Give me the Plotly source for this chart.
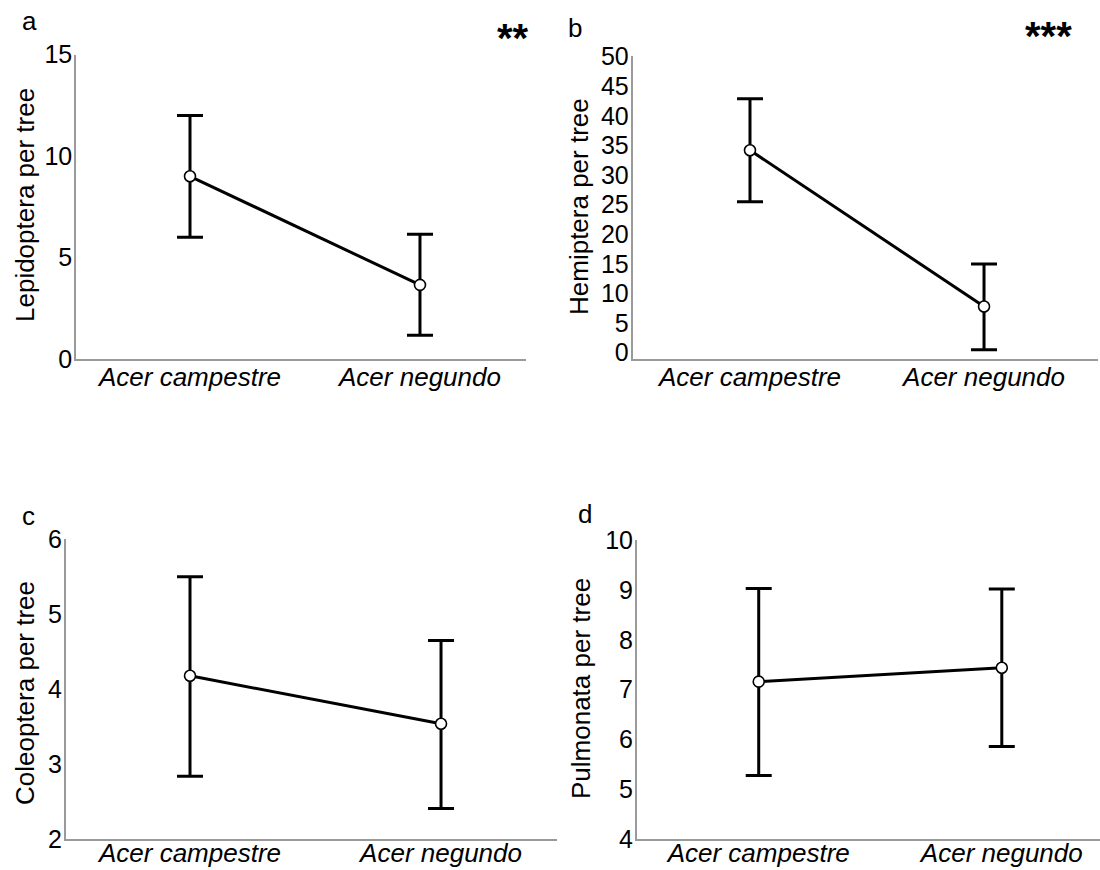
import plotly.graph_objects as go

species = ["Acer campestre", "Acer negundo"]

lep_mean = [9.0, 3.65]
lep_upper = [12.0, 6.15]
lep_lower = [6.0, 1.17]

hem_mean = [34.2, 7.8]
hem_upper = [42.9, 15.0]
hem_lower = [25.5, 0.5]

col_mean = [4.18, 3.54]
col_upper = [5.50, 4.65]
col_lower = [2.84, 2.41]

pul_mean = [7.16, 7.44]
pul_upper = [9.03, 9.02]
pul_lower = [5.28, 5.86]

y_titles = ["Lepidoptera per tree", "Hemiptera per tree", "Coleoptera per tree", "Pulmonata per tree"]
panel_letters = ["a", "b", "c", "d"]
signif = ["**", "***", "", ""]

lep_ticks = [0, 5, 10, 15]
hem_ticks = [0, 5, 10, 15, 20, 25, 30, 35, 40, 45, 50]
col_ticks = [2, 3, 4, 5, 6]
pul_ticks = [4, 5, 6, 7, 8, 9, 10]

FONT = "Liberation Sans, Arial, sans-serif"
W, H = 1100, 870

panels = [
    dict(mean=lep_mean, up=lep_upper, lo=lep_lower, ticks=lep_ticks, yr=[0, 15],
         xpx=(76, 526), ypx=(54.5, 359), xr=[-0.4957, 1.461], xstand=-6),
    dict(mean=hem_mean, up=hem_upper, lo=hem_lower, ticks=hem_ticks, yr=[-1.06, 50.2],
         xpx=(632.5, 1098), ypx=(55.5, 359), xr=[-0.502, 1.487], xstand=-6),
    dict(mean=col_mean, up=col_upper, lo=col_lower, ticks=col_ticks, yr=[2, 6],
         xpx=(65.6, 557), ypx=(539.3, 839.3), xr=[-0.4956, 1.462], xstand=-10),
    dict(mean=pul_mean, up=pul_upper, lo=pul_lower, ticks=pul_ticks, yr=[4, 10],
         xpx=(636.7, 1100), ypx=(540, 839.3), xr=[-0.502, 1.404], xstand=-10),
]

fig = go.Figure()
layout = dict(
    template="none",
    width=W, height=H, margin=dict(l=0, r=0, t=0, b=0, pad=0, autoexpand=False),
    paper_bgcolor="white", plot_bgcolor="white", showlegend=False,
    font=dict(family=FONT, color="#000000"),
)

annotations = []
title_pos = [(25, 205), (579, 207), (25, 693), (581, 689)]
letter_pos = [(29, 21), (575, 28), (28, 516), (585, 514)]
sig_pos = [(513, 38), (1048, 36)]

for i, p in enumerate(panels):
    n = "" if i == 0 else str(i + 1)
    xa, ya = "x" + n, "y" + n
    fig.add_trace(go.Scatter(
        x=[0, 1], y=p["mean"], xaxis=xa, yaxis=ya, mode="lines+markers",
        line=dict(color="black", width=3),
        marker=dict(symbol="circle", size=11, color="white", line=dict(color="black", width=1.6)),
        error_y=dict(type="data", symmetric=False,
                     array=[u - m for u, m in zip(p["up"], p["mean"])],
                     arrayminus=[m - l for m, l in zip(p["mean"], p["lo"])],
                     color="black", thickness=3, width=13),
        hoverinfo="skip",
    ))
    x0, x1 = p["xpx"]
    yt, yb = p["ypx"]
    layout["xaxis" + n] = dict(
        domain=[x0 / W, x1 / W], anchor=ya, range=p["xr"], automargin=False,
        tickvals=[0, 1], ticktext=species, ticks="", showgrid=False, zeroline=False,
        showline=True, linecolor="#9a9a9a", linewidth=1.5,
        tickfont=dict(family=FONT, size=26, color="#000000", style="italic"),
        ticklabelstandoff=p["xstand"],
    )
    layout["yaxis" + n] = dict(
        domain=[1 - yb / H, 1 - yt / H], anchor=xa, range=p["yr"], automargin=False,
        tickvals=p["ticks"], ticks="", showgrid=False, zeroline=False,
        showline=True, linecolor="#9a9a9a", linewidth=1.5,
        tickfont=dict(family=FONT, size=25, color="#000000"),
        ticklabelstandoff=-3,
    )
    tx, ty = title_pos[i]
    annotations.append(dict(
        text=y_titles[i], x=tx / W, y=1 - ty / H, xref="paper", yref="paper",
        textangle=-90, showarrow=False, xanchor="center", yanchor="middle",
        font=dict(family=FONT, size=26, color="#000000"),
    ))
    lx, ly = letter_pos[i]
    annotations.append(dict(
        text=panel_letters[i], x=lx / W, y=1 - ly / H, xref="paper", yref="paper",
        showarrow=False, xanchor="center", yanchor="middle",
        font=dict(family=FONT, size=26, color="#000000"),
    ))
    if signif[i]:
        sx, sy = sig_pos[i]
        annotations.append(dict(
            text="<b>" + signif[i] + "</b>", x=sx / W, y=1 - sy / H, xref="paper", yref="paper",
            showarrow=False, xanchor="center", yanchor="middle",
            font=dict(family=FONT, size=40, color="#000000"),
        ))

layout["annotations"] = annotations
fig.update_layout(**layout)
fig.write_html("out.html")
